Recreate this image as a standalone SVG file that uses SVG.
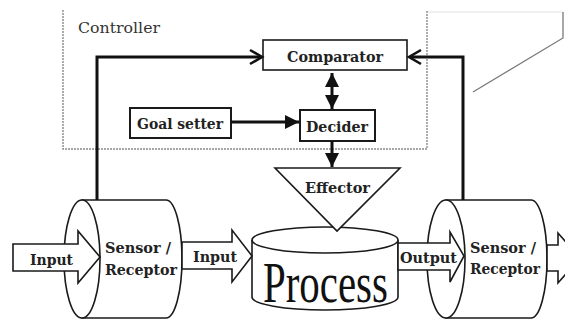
<svg xmlns="http://www.w3.org/2000/svg" width="565" height="321" viewBox="0 0 565 321">
<defs>
<style>
.box{fill:#fff;stroke:#1a1a1a;stroke-width:1.6}
.shape{fill:#fff;stroke:#1a1a1a;stroke-width:1.6}
.t{font-family:"DejaVu Serif","Liberation Serif",serif;font-size:15px;font-weight:bold;fill:#222}
.t.light{font-weight:normal;fill:#333}
.fb{fill:none;stroke:#111;stroke-width:3}
.chev{fill:none;stroke:#111;stroke-width:2.6;stroke-linejoin:miter}
.dash{fill:none;stroke:#8a8a8a;stroke-width:1.4;stroke-dasharray:2 1}
</style>
<marker id="fill" viewBox="0 0 10 10" refX="10" refY="5" markerWidth="4.8" markerHeight="4.8" orient="auto-start-reverse" markerUnits="strokeWidth">
<path d="M0,0 L10,5 L0,10 Z" fill="#111"/>
</marker>
</defs>
<rect width="565" height="321" fill="#fff"/>

<g id="environment">
<line x1="428" y1="12" x2="563" y2="12" stroke="#e2e2e2" stroke-width="1"/>
<polyline points="563,12 563,38 473,92" fill="none" stroke="#7a7a7a" stroke-width="1.3"/>
</g>

<g id="controller">
<path class="dash" d="M63,10 V149 H427 V10"/>
<text class="t light" x="78" y="33" textLength="82" lengthAdjust="spacingAndGlyphs">Controller</text>
</g>

<g id="comparator">
<rect class="box" x="263" y="40" width="144" height="30"/>
<text class="t" x="287" y="62" textLength="96" lengthAdjust="spacingAndGlyphs">Comparator</text>
</g>

<g id="goal-setter">
<rect class="box" x="130" y="108" width="101" height="30" style="stroke-width:2"/>
<text class="t" x="137" y="129" textLength="86" lengthAdjust="spacingAndGlyphs">Goal setter</text>
</g>

<g id="decider">
<rect class="box" x="300" y="110" width="75" height="31" style="stroke-width:2"/>
<text class="t" x="306" y="132" textLength="62" lengthAdjust="spacingAndGlyphs">Decider</text>
</g>

<g id="sensor-left">
<path class="shape" d="M82,200 H166 A16,59 0 0 1 166,318 H82 Z"/>
<ellipse class="shape" cx="82" cy="259" rx="18" ry="59"/>
<text class="t" x="105" y="253" textLength="66" lengthAdjust="spacingAndGlyphs">Sensor /</text>
<text class="t" x="105" y="275" textLength="72" lengthAdjust="spacingAndGlyphs">Receptor</text>
</g>

<g id="process">
<path class="shape" d="M252,240 V297 A73,13 0 0 0 398,297 V240"/>
<ellipse class="shape" cx="325" cy="240" rx="73" ry="13"/>
<text transform="translate(263,302) scale(0.73,1)" x="0" y="0" font-family="'Liberation Serif',serif" font-size="56" fill="#111">Process</text>
</g>

<g id="effector">
<polygon class="shape" points="275,168 400,168 337,231"/>
<text class="t" x="305" y="193" textLength="65" lengthAdjust="spacingAndGlyphs">Effector</text>
</g>

<g id="sensor-right">
<path class="shape" d="M446,200 H531 A16,59 0 0 1 531,318 H446 Z"/>
<ellipse class="shape" cx="446" cy="259" rx="19" ry="59"/>
<text class="t" x="470" y="253" textLength="66" lengthAdjust="spacingAndGlyphs">Sensor /</text>
<text class="t" x="470" y="274" textLength="70" lengthAdjust="spacingAndGlyphs">Receptor</text>
</g>

<g id="connectors">
<path class="fb" d="M97,200 V57 H261"/>
<polyline class="chev" points="250,50 262,57 250,64"/>
<path class="fb" d="M463,200 V57 H410"/>
<polyline class="chev" points="421,50 409,57 421,64"/>
<line x1="332" y1="73" x2="332" y2="109" stroke="#111" stroke-width="3" marker-start="url(#fill)" marker-end="url(#fill)"/>
<line x1="231" y1="122" x2="299" y2="122" stroke="#111" stroke-width="3" marker-end="url(#fill)"/>
<line x1="332" y1="141" x2="332" y2="167" stroke="#111" stroke-width="3" marker-end="url(#fill)"/>
<g id="input-arrow">
<polygon class="shape" points="13,244 78,244 78,231 100,257 78,283 78,271 13,271"/>
<text class="t" x="30" y="265" textLength="43" lengthAdjust="spacingAndGlyphs">Input</text>
</g>
<g id="input-arrow-2">
<polygon class="shape" points="182,242 232,242 232,230 252,256 232,282 232,269 182,269"/>
<text class="t" x="193" y="262" textLength="44" lengthAdjust="spacingAndGlyphs">Input</text>
</g>
<g id="output-arrow">
<polygon class="shape" points="398,243 450,243 450,232 464,256 450,282 450,270 398,270"/>
<text class="t" x="400" y="263" textLength="57" lengthAdjust="spacingAndGlyphs">Output</text>
</g>
<g id="exit-arrow">
<polygon class="shape" points="547,245 558,245 558,233 580,258 558,283 558,271 547,271"/>
</g>
</g>
</svg>
